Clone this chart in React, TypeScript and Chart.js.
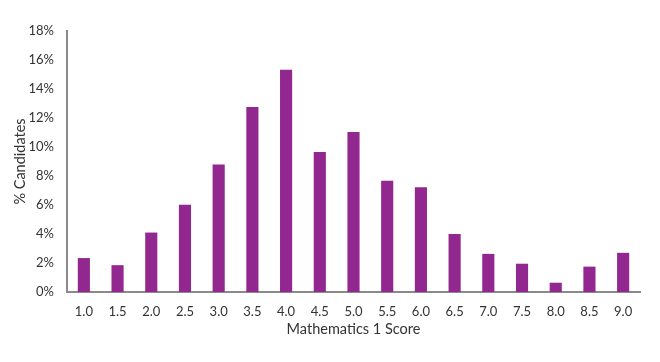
import React, { useEffect, useRef } from "react";
import { Chart, registerables } from "chart.js";

Chart.register(...registerables);

const scores = ["1.0", "1.5", "2.0", "2.5", "3.0", "3.5", "4.0", "4.5", "5.0", "5.5", "6.0", "6.5", "7.0", "7.5", "8.0", "8.5", "9.0"];
const pctCandidates = [2.34, 1.85, 4.1, 6.02, 8.8, 12.76, 15.33, 9.66, 11.03, 7.68, 7.22, 4.0, 2.63, 1.95, 0.64, 1.75, 2.7];
const yMax = 18;
const yStep = 2;

export default function App() {
  const ref = useRef<HTMLCanvasElement | null>(null);

  useEffect(() => {
    document.body.style.margin = "0";
    const canvas = ref.current;
    if (!canvas) return;
    const font = "Lato, 'Open Sans', sans-serif";
    const chart = new Chart(canvas, {
      type: "bar",
      data: {
        labels: scores,
        datasets: [
          {
            data: pctCandidates,
            backgroundColor: "#92278F",
            borderWidth: 0,
            barPercentage: 0.36,
            categoryPercentage: 1,
          },
        ],
      },
      options: {
        animation: false,
        responsive: false,
        devicePixelRatio: 1,
        layout: { padding: { left: 10, right: 20, top: 31, bottom: 23.6 } },
        plugins: { legend: { display: false }, tooltip: { enabled: false } },
        scales: {
          x: {
            grid: { display: false, drawTicks: false },
            border: { display: true, color: "#8a8a8a", width: 2 },
            ticks: { padding: 12, color: "#333333", font: { family: font, size: 13 } },
            title: {
              display: true,
              text: "Mathematics 1 Score",
              color: "#333333",
              font: { family: font, size: 14.5 },
              padding: { top: 2, bottom: 0 },
            },
            afterFit: (scale: any) => {
              scale.height = 46.4;
            },
          },
          y: {
            min: 0,
            max: yMax,
            grid: { display: false, drawTicks: false },
            border: { display: true, color: "#8a8a8a", width: 2 },
            ticks: {
              stepSize: yStep,
              padding: 13,
              color: "#333333",
              font: { family: font, size: 13 },
              callback: (v: any) => `${v}%`,
            },
            title: {
              display: true,
              text: "% Candidates",
              color: "#333333",
              font: { family: font, size: 14.5 },
              padding: { top: 2, bottom: 0 },
            },
            afterFit: (scale: any) => {
              scale.width = 57;
            },
          },
        },
      },
    });
    return () => chart.destroy();
  }, []);

  return (
    <div style={{ width: 660, height: 362 }}>
      <canvas ref={ref} width={660} height={362} style={{ display: "block" }} />
    </div>
  );
}
